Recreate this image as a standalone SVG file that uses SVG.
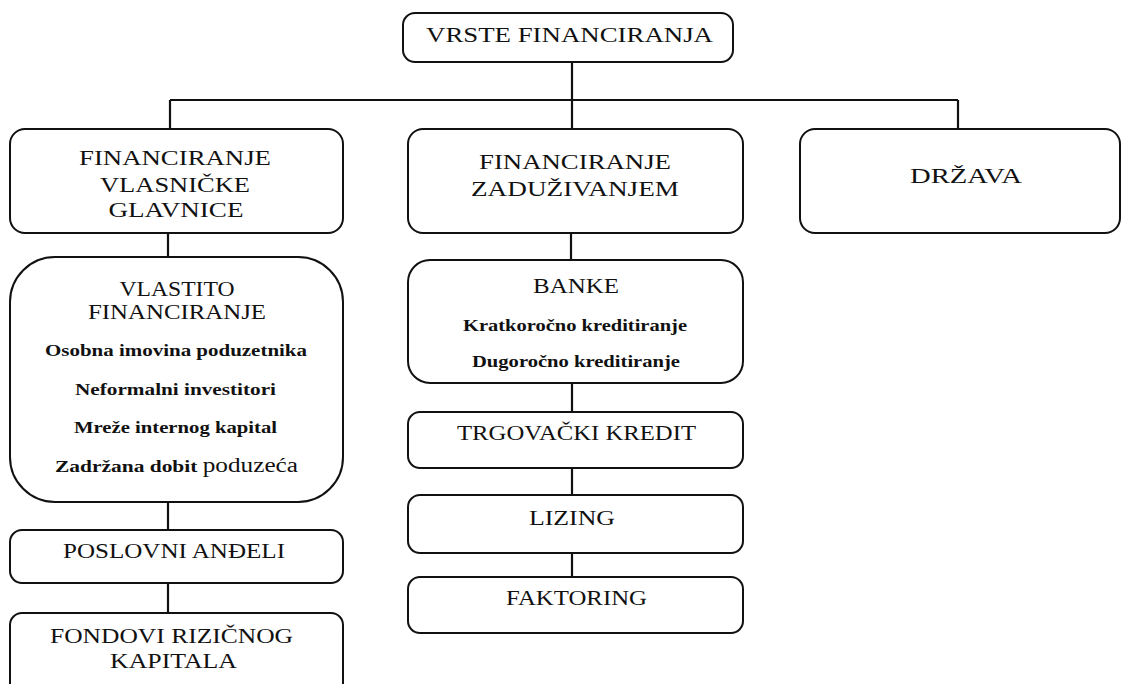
<svg xmlns="http://www.w3.org/2000/svg" width="1123" height="684" viewBox="0 0 1123 684">
<style>
.box{fill:#fff;stroke:#111;stroke-width:2}
.con{stroke:#111;stroke-width:2.2;fill:none}
.t{font-family:"Liberation Serif","Times New Roman",serif;font-size:22px;fill:#111;text-anchor:middle}
.s{font-family:"Liberation Serif","Times New Roman",serif;font-size:17px;font-weight:bold;fill:#111;text-anchor:middle}
.n{font-weight:normal;font-size:20px}
</style>
<rect width="1123" height="684" fill="#fff"/>
<g id="connectors">
<path class="con" d="M572 62V129"/>
<path class="con" d="M170 100H958"/>
<path class="con" d="M170 100V129"/>
<path class="con" d="M958 100V129"/>
<path class="con" d="M168 233V257"/>
<path class="con" d="M168 502V530"/>
<path class="con" d="M168 583V613"/>
<path class="con" d="M571 233V260"/>
<path class="con" d="M572 383V412"/>
<path class="con" d="M572 468V495"/>
<path class="con" d="M572 553V577"/>
</g>
<g id="vrste">
<rect class="box" x="403" y="13" width="330" height="49" rx="12"/>
<text class="t" x="569.5" y="42" textLength="287" lengthAdjust="spacingAndGlyphs">VRSTE FINANCIRANJA</text>
</g>
<g id="vlasnicke">
<rect class="box" x="10" y="129" width="333" height="104" rx="15"/>
<text class="t" x="175" y="165" textLength="192" lengthAdjust="spacingAndGlyphs">FINANCIRANJE</text>
<text class="t" x="175" y="192" textLength="150" lengthAdjust="spacingAndGlyphs">VLASNIČKE</text>
<text class="t" x="176" y="217" textLength="135" lengthAdjust="spacingAndGlyphs">GLAVNICE</text>
</g>
<g id="zaduzivanjem">
<rect class="box" x="408" y="129" width="335" height="104" rx="15"/>
<text class="t" x="575" y="169" textLength="192" lengthAdjust="spacingAndGlyphs">FINANCIRANJE</text>
<text class="t" x="575" y="196" textLength="208" lengthAdjust="spacingAndGlyphs">ZADUŽIVANJEM</text>
</g>
<g id="drzava">
<rect class="box" x="800" y="129" width="320" height="104" rx="15"/>
<text class="t" x="966" y="183" textLength="112" lengthAdjust="spacingAndGlyphs">DRŽAVA</text>
</g>
<g id="vlastito">
<rect class="box" x="10" y="257" width="333" height="245" rx="45"/>
<text class="t" x="177" y="296" textLength="115" lengthAdjust="spacingAndGlyphs">VLASTITO</text>
<text class="t" x="177" y="319" font-size="20" textLength="178" lengthAdjust="spacingAndGlyphs">FINANCIRANJE</text>
<text class="s" x="176" y="356" textLength="262" lengthAdjust="spacingAndGlyphs">Osobna imovina poduzetnika</text>
<text class="s" x="175.5" y="395" textLength="201" lengthAdjust="spacingAndGlyphs">Neformalni investitori</text>
<text class="s" x="175.5" y="433" textLength="203" lengthAdjust="spacingAndGlyphs">Mreže internog kapital</text>
<text class="s" x="176.5" y="472" textLength="243" lengthAdjust="spacingAndGlyphs">Zadržana dobit <tspan class="n">poduzeća</tspan></text>
</g>
<g id="andeli">
<rect class="box" x="10" y="530" width="333" height="53" rx="12"/>
<text class="t" x="174" y="558" textLength="222" lengthAdjust="spacingAndGlyphs">POSLOVNI ANĐELI</text>
</g>
<g id="fondovi">
<rect class="box" x="10" y="613" width="333" height="90" rx="12"/>
<text class="t" x="171.5" y="643" textLength="243" lengthAdjust="spacingAndGlyphs">FONDOVI RIZIČNOG</text>
<text class="t" x="173.5" y="668" textLength="127" lengthAdjust="spacingAndGlyphs">KAPITALA</text>
</g>
<g id="banke">
<rect class="box" x="408" y="260" width="335" height="123" rx="22"/>
<text class="t" x="576" y="293" textLength="86" lengthAdjust="spacingAndGlyphs">BANKE</text>
<text class="s" x="575" y="331" textLength="224" lengthAdjust="spacingAndGlyphs">Kratkoročno kreditiranje</text>
<text class="s" x="576" y="367" textLength="208" lengthAdjust="spacingAndGlyphs">Dugoročno kreditiranje</text>
</g>
<g id="trgovacki">
<rect class="box" x="408" y="412" width="335" height="56" rx="12"/>
<text class="t" x="576.5" y="440" textLength="239" lengthAdjust="spacingAndGlyphs">TRGOVAČKI KREDIT</text>
</g>
<g id="lizing">
<rect class="box" x="408" y="495" width="335" height="58" rx="12"/>
<text class="t" x="572" y="525" textLength="86" lengthAdjust="spacingAndGlyphs">LIZING</text>
</g>
<g id="faktoring">
<rect class="box" x="408" y="577" width="335" height="56" rx="12"/>
<text class="t" x="576.5" y="605" textLength="141" lengthAdjust="spacingAndGlyphs">FAKTORING</text>
</g>
</svg>
